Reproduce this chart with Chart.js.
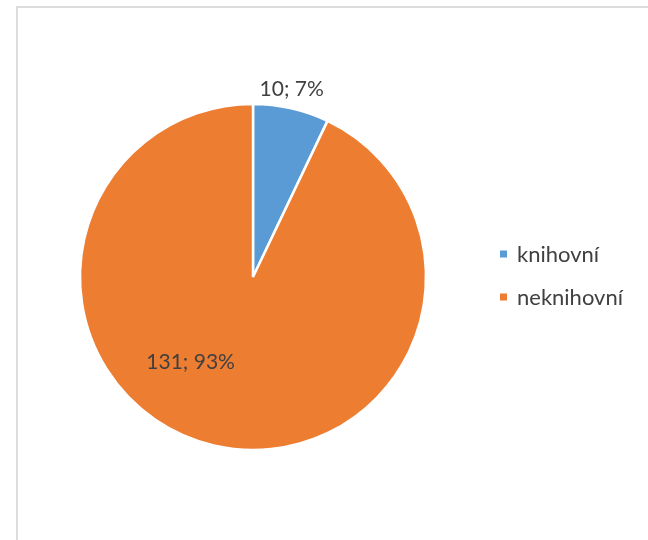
<!DOCTYPE html>
<html>
<head>
<meta charset="utf-8">
<script src="https://cdn.jsdelivr.net/npm/chart.js@4.4.1/dist/chart.umd.min.js"></script>
<style>
  html, body { margin: 0; padding: 0; background: #fff; }
  #frame { position: absolute; left: 16px; top: 6px; width: 700px; height: 600px;
           border-left: 2px solid #dcdcdc; border-top: 2px solid #dcdcdc; }
  #wrap { position: absolute; left: 0; top: 0; width: 648px; height: 540px; }
</style>
</head>
<body>
<div id="frame"></div>
<div id="wrap"><canvas id="chart" width="648" height="540"></canvas></div>
<script>
// data
const categories = ['knihovní', 'neknihovní'];
const counts = [10, 131];
const colors = ['#5B9BD5', '#ED7D31'];

const FONT = '21px Lato, "Open Sans", sans-serif';
const LEGEND_FONT = '22px Lato, "Open Sans", sans-serif';
const TEXT = '#404040';

// labels "value; percent" – small slice outside, big slice inside
const labelPlugin = {
  id: 'sliceLabels',
  afterDatasetsDraw(chart) {
    const ctx = chart.ctx;
    const meta = chart.getDatasetMeta(0);
    const total = counts.reduce((a, b) => a + b, 0);
    ctx.save();
    ctx.font = FONT;
    ctx.fillStyle = TEXT;
    ctx.textAlign = 'center';
    ctx.textBaseline = 'middle';
    meta.data.forEach((arc, i) => {
      const p = arc.getProps(['x', 'y', 'startAngle', 'endAngle', 'outerRadius'], true);
      let ang = (p.startAngle + p.endAngle) / 2;
      let dist;
      if (i === 0) {
        ang -= 0.02;
        dist = p.outerRadius + 19;
      } else {
        ang += 0.41;
        dist = p.outerRadius * 0.61;
      }
      const x = p.x + Math.cos(ang) * dist;
      const y = p.y + Math.sin(ang) * dist;
      const pct = Math.round(counts[i] / total * 100);
      ctx.fillText(counts[i] + '; ' + pct + '%', x, y);
    });
    ctx.restore();
  }
};

// legend on the right, small squares
const legendPlugin = {
  id: 'sideLegend',
  afterDraw(chart) {
    const ctx = chart.ctx;
    ctx.save();
    ctx.font = LEGEND_FONT;
    ctx.textBaseline = 'middle';
    categories.forEach((c, i) => {
      const y = 254 + i * 43;
      ctx.fillStyle = colors[i];
      ctx.fillRect(500, y - 3.5, 7, 7);
      ctx.fillStyle = TEXT;
      ctx.fillText(c, 517, y + 1);
    });
    ctx.restore();
  }
};

new Chart(document.getElementById('chart'), {
  type: 'pie',
  data: {
    labels: categories,
    datasets: [{
      data: counts,
      backgroundColor: colors,
      borderColor: '#ffffff',
      borderWidth: 2.5,
      hoverOffset: 0
    }]
  },
  options: {
    responsive: false,
    animation: false,
    radius: 173,
    layout: { padding: { left: 80, right: 222, top: 104, bottom: 90 } },
    plugins: {
      legend: { display: false },
      tooltip: { enabled: false }
    }
  },
  plugins: [labelPlugin, legendPlugin]
});
</script>
</body>
</html>
